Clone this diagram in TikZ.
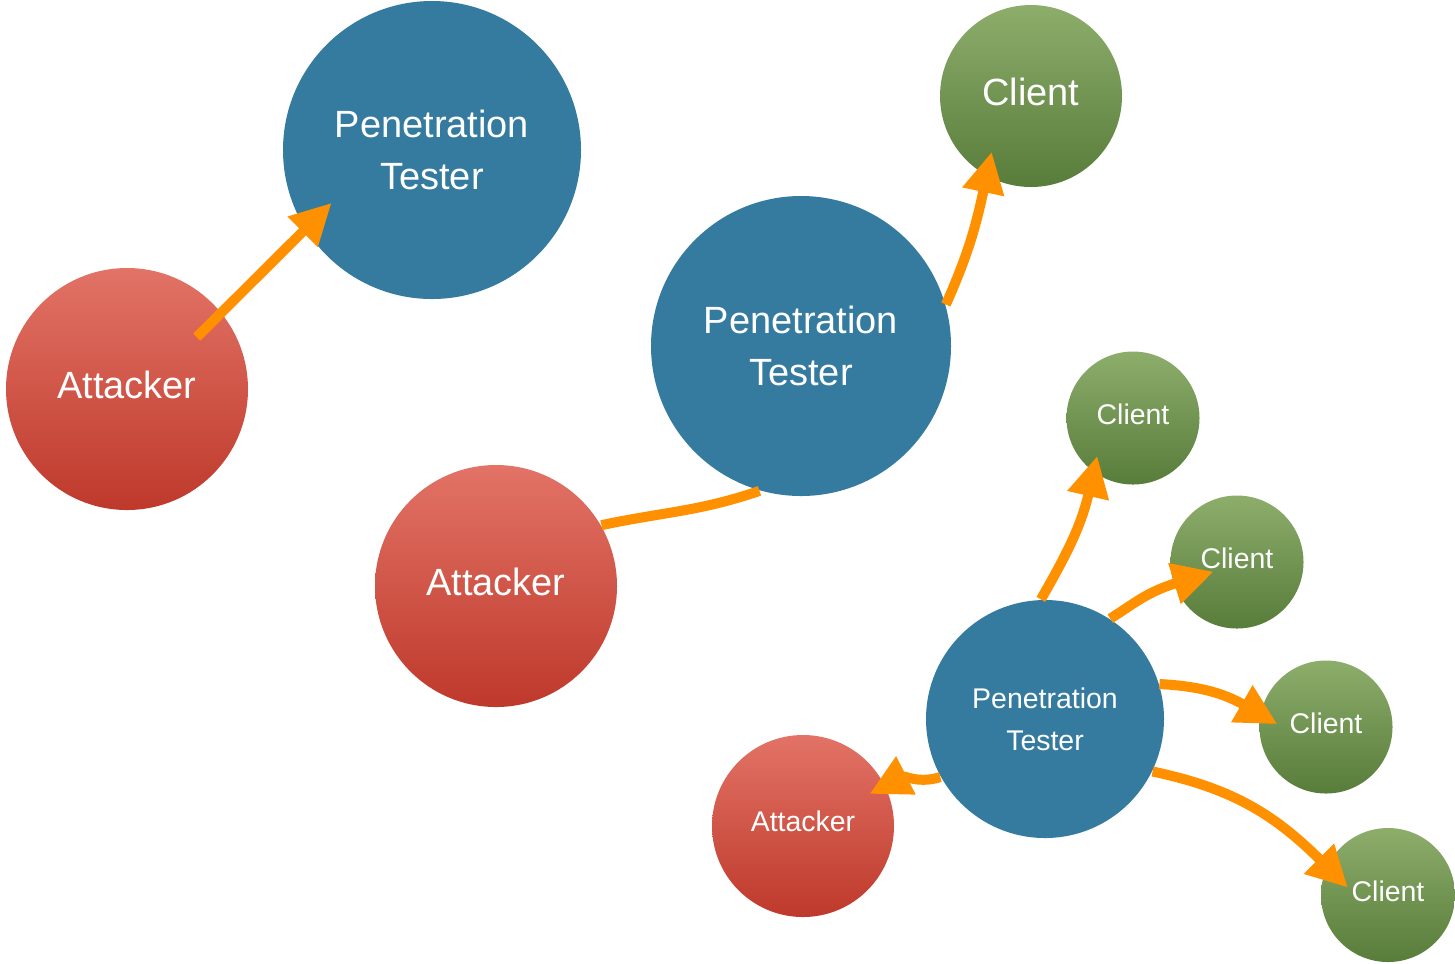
\documentclass[tikz,border=0pt]{standalone}
\usepackage{fontspec}
\setmainfont{Liberation Sans}
\usetikzlibrary{arrows.meta}
\definecolor{ptblue}{RGB}{53,123,160}
\definecolor{attop}{RGB}{226,115,102}
\definecolor{atbot}{RGB}{190,57,43}
\definecolor{cltop}{RGB}{141,173,107}
\definecolor{clbot}{RGB}{88,124,58}
\definecolor{flow}{RGB}{255,145,0}
\begin{document}
\begin{tikzpicture}[
  ball/.style={circle, inner sep=0pt, text=white, align=center},
  tester/.style={ball, fill=ptblue},
  attacker/.style={ball, top color=attop, bottom color=atbot, text depth=0.09cm},
  client/.style={ball, top color=cltop, bottom color=clbot, text depth=0.08cm},
  big/.style={font=\fontsize{10.8}{14.8}\selectfont},
  small/.style={font=\fontsize{8.1}{12}\selectfont},
  wire/.style={draw=flow, line width=2.85pt},
  flowarrow/.style={wire, -{Triangle[length=0.41cm, width=0.40cm]}}
]
\useasboundingbox (0,0) rectangle (14.55,-9.63);
\node[attacker, big, minimum size=2.42cm] (att1) at (1.27,-3.89) {Attacker};
\node[tester, big, minimum size=2.98cm] (pt1) at (4.32,-1.50) {Penetration\\Tester};
\node[client, big, minimum size=1.82cm] (cl1) at (10.31,-0.96) {Client};
\node[tester, big, minimum size=3.0cm] (pt2) at (8.01,-3.46) {Penetration\\Tester};
\node[attacker, big, minimum size=2.42cm] (att2) at (4.96,-5.86) {Attacker};
\node[tester, small, minimum size=2.38cm] (pt3) at (10.45,-7.19) {Penetration\\Tester};
\node[attacker, small, minimum size=1.82cm] (att3) at (8.03,-8.26) {Attacker};
\node[client, small, minimum size=1.33cm] (cl2) at (11.33,-4.18) {Client};
\node[client, small, minimum size=1.33cm] (cl3) at (12.37,-5.62) {Client};
\node[client, small, minimum size=1.33cm] (cl4) at (13.26,-7.27) {Client};
\node[client, small, minimum size=1.34cm] (cl5) at (13.88,-8.95) {Client};
\draw[flowarrow, shorten <=-0.35cm, shorten >=-0.375cm] (att1.39) -- (pt1.212);
\draw[wire] (att2.30) to[out=12, in=199] (pt2.254);
\draw[flowarrow, shorten >=-0.25cm] (pt2.16) to[out=66, in=258] (cl1.241);
\draw[flowarrow, shorten >=-0.17cm] (pt3.92) to[out=60, in=257] (cl2.234);
\draw[flowarrow, shorten >=-0.42cm] (pt3.57) to[out=32, in=197] (cl3.199);
\draw[flowarrow, shorten >=-0.2cm] (pt3.17) to[out=-3, in=150] (cl4.169);
\draw[flowarrow, shorten >=-0.3cm] (pt3.-26) to[out=-12, in=135] (cl5.155);
\draw[flowarrow, shorten >=-0.18cm] (pt3.209) to[out=198, in=27] (att3.26);
\end{tikzpicture}
\end{document}
